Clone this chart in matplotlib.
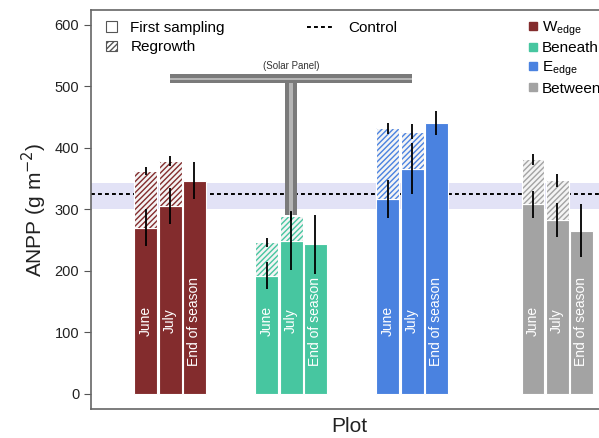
import numpy as np
import matplotlib
matplotlib.use("Agg")
import matplotlib.pyplot as plt
from matplotlib.patches import Rectangle, Patch
from matplotlib.lines import Line2D

plt.rcParams['font.family'] = ['Liberation Sans', 'DejaVu Sans']

# data
plots = ['W$_\\mathregular{edge}$', 'Beneath', 'E$_\\mathregular{edge}$', 'Between']
colors = ['#832c2d', '#47c6a0', '#4a82e0', '#a3a3a3']
months = ['June', 'July', 'End of season']
first = [[270, 305, 346], [192, 248, 243], [316, 366, 440], [308, 282, 265]]
first_err = [[30, 29, 30], [22, 47, 48], [31, 41, 20], [22, 28, 43]]
total = [[362, 379], [246, 289], [432, 426], [381, 347]]
total_err = [[7, 8], [7, 8], [9, 12], [9, 11]]
control = 325
control_band = (300, 343)
group_pos = [1.0, 2.0, 3.0, 4.2]

W, H = 599, 438
fig = plt.figure(figsize=(W / 100, H / 100), dpi=100)
ax = fig.add_axes([91 / W, 29 / H, (608 - 91) / W, (409 - 10) / H])

bw = 0.19
step = 0.2
dash = (2, 1.6)

ax.axhspan(*control_band, color='#e2e2f6', lw=0, zorder=0)
ax.axhline(control, color='black', lw=1.4, dashes=dash, zorder=1)

for g, x0 in enumerate(group_pos):
    col = colors[g]
    for m in range(3):
        x = x0 + (m - 1) * step
        ax.bar(x, first[g][m], width=bw, color=col, edgecolor='white', lw=0.8, zorder=2)
        if m < 2:
            ax.bar(x, total[g][m] - first[g][m], bottom=first[g][m], width=bw,
                   facecolor='#f4f4f4', edgecolor=col, hatch='//////', lw=0, zorder=2)
            ax.bar(x, total[g][m] - first[g][m], bottom=first[g][m], width=bw,
                   facecolor='none', edgecolor='white', lw=0.8, zorder=2)
        ax.text(x, 118, months[m], rotation=90, color='white', ha='center', va='center',
                fontsize=10, zorder=5)

# solar panel sketch
ax.add_patch(Rectangle((1.0, 505), 2.0, 15, facecolor='#7a7a7a', edgecolor='none', zorder=3))
ax.add_patch(Rectangle((1.0, 510), 2.0, 4, facecolor='#b5b5b5', edgecolor='none', zorder=3))
ax.add_patch(Rectangle((1.95, 290), 0.1, 215, facecolor='#7a7a7a', edgecolor='none', zorder=3))
ax.add_patch(Rectangle((1.985, 290), 0.03, 215, facecolor='#b5b5b5', edgecolor='none', zorder=3))
ax.text(2.0, 525, '(Solar Panel)', ha='center', va='bottom', fontsize=7, color='#333333')

for g, x0 in enumerate(group_pos):
    for m in range(3):
        x = x0 + (m - 1) * step
        ax.errorbar(x, first[g][m], yerr=first_err[g][m], fmt='none', ecolor='black',
                    elinewidth=1.3, capsize=0, zorder=4)
        if m < 2:
            ax.errorbar(x, total[g][m], yerr=total_err[g][m], fmt='none', ecolor='black',
                        elinewidth=1.3, capsize=0, zorder=4)

ax.set_xlim(0.346, 4.62)
ax.set_ylim(-25, 624)
ax.set_yticks(np.arange(0, 601, 100))
ax.set_xticks([])
ax.tick_params(axis='y', labelsize=10.5, length=5, color='#555555', labelcolor='#222222')
for s in ax.spines.values():
    s.set_color('#666666')
    s.set_linewidth(1.2)
ax.set_ylabel('ANPP (g m$^{-2}$)', fontsize=15, color='#222222', labelpad=4)
ax.set_xlabel('Plot', fontsize=15, color='#222222', labelpad=6)

# legends
common = dict(frameon=False, loc='upper left', bbox_transform=fig.transFigure,
              fontsize=11, borderaxespad=0, borderpad=0)
h1 = [Patch(facecolor='white', edgecolor='#555555', lw=0.8),
      Patch(facecolor='white', edgecolor='#555555', hatch='//////', lw=0.8)]
leg1 = ax.legend(h1, ['First sampling', 'Regrowth'], bbox_to_anchor=(106 / W, 1 - 21 / H),
                 handlelength=0.7, handleheight=0.7, handletextpad=0.9,
                 labelspacing=0.35, **common)
ax.add_artist(leg1)
leg2 = ax.legend([Line2D([], [], color='black', lw=1.4, dashes=dash)], ['Control'],
                 bbox_to_anchor=(307 / W, 1 - 21 / H), handlelength=1.7,
                 handletextpad=1.0, **common)
ax.add_artist(leg2)
h3 = [Line2D([], [], marker='s', ls='none', color=c, markersize=6) for c in colors]
ax.legend(h3, plots, bbox_to_anchor=(528 / W, 1 - 19 / H), handlelength=0.6,
          handletextpad=0.3, labelspacing=0.25, **common)

fig.savefig('out.png', dpi=100)
